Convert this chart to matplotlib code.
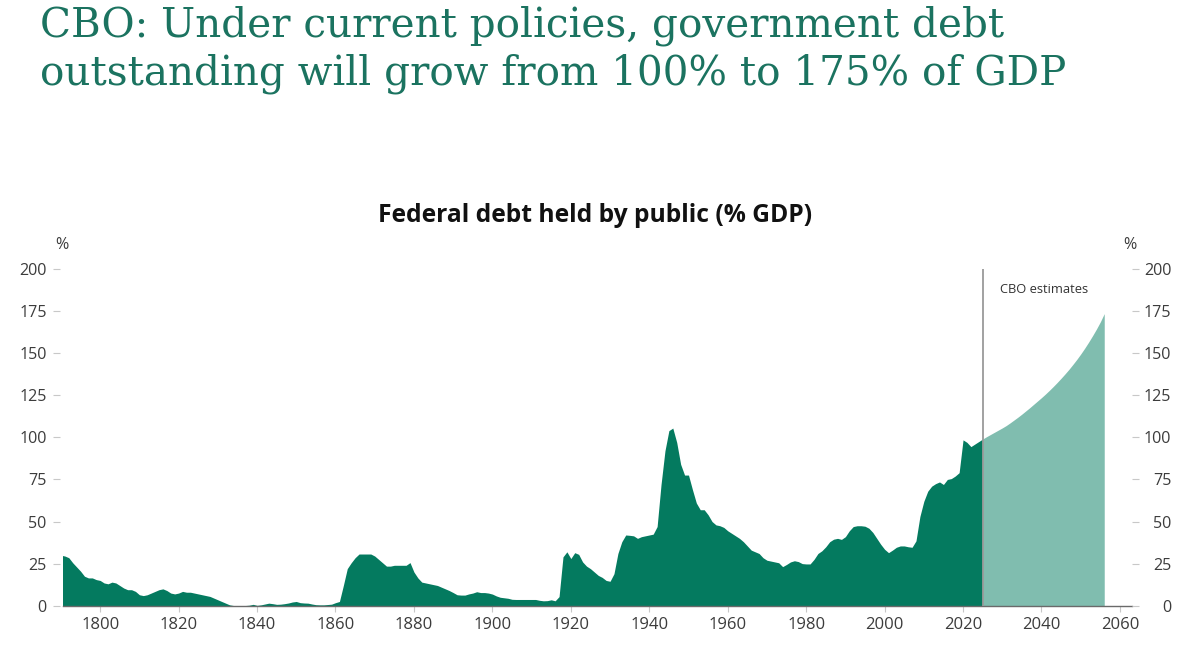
import matplotlib
matplotlib.use("Agg")
import matplotlib.pyplot as plt
import numpy as np

# ---------------- data ----------------
hist_years = list(range(1790, 2026))
hist_values = [
    30, 29.5, 28.5, 25.5, 23, 20.5, 17.5, 16.5, 16.5, 15.5,          # 1790-1799
    15, 13.5, 13, 14, 13.5, 12, 10.5, 9.5, 9.5, 8.5,                 # 1800-1809
    6.5, 6, 6.5, 7.5, 8.5, 9.5, 10, 9, 7.5, 7,                       # 1810-1819
    7.5, 8.5, 8, 8, 7.5, 7, 6.5, 6, 5.5, 4.5,                        # 1820-1829
    3.5, 2.5, 1.5, 0.5, 0.1, 0, 0, 0.1, 0.3, 0.8,                    # 1830-1839
    0.2, 0.5, 1, 1.5, 1.2, 0.8, 0.9, 1.2, 1.6, 2.2,                  # 1840-1849
    2.5, 1.8, 1.6, 1.5, 1, 0.6, 0.5, 0.5, 0.7, 0.9,                  # 1850-1859
    1.8, 2.5, 12, 22, 25.5, 28.5, 30.7, 30.7, 30.7, 30.7,            # 1860-1869
    29.5, 27.5, 25.5, 23.5, 23.5, 24, 24, 24, 24, 25.6,              # 1870-1879
    20, 16.5, 14, 13.5, 13, 12.5, 12, 11, 10, 9,                     # 1880-1889
    7.8, 6.5, 6.3, 6.3, 7, 7.5, 8.3, 7.8, 7.8, 7.5,                  # 1890-1899
    6.9, 5.8, 5, 4.7, 4.4, 3.8, 3.7, 3.7, 3.7, 3.7,                  # 1900-1909
    3.7, 3.7, 3.2, 2.9, 3, 3.5, 2.9, 5.4, 29, 32,                    # 1910-1919
    28, 31.5, 30.5, 26, 23.5, 22, 20, 18, 16.8, 15,                  # 1920-1929
    14.5, 19, 31, 38, 42, 41.8, 41.5, 40, 41, 41.5,                  # 1930-1939
    42, 42.5, 47, 72, 92, 104, 105.5, 97, 84, 77.6,                  # 1940-1949
    77.6, 69, 61, 57, 57, 54, 50, 48, 47.5, 46.5,                    # 1950-1959
    44.5, 43, 41.5, 40, 38, 35.5, 33, 32, 31, 28.5,                  # 1960-1969
    27, 26.5, 26, 25.5, 23.2, 24.5, 26, 26.7, 26.2, 25,              # 1970-1979
    24.8, 24.8, 27.5, 31, 32.6, 35, 38, 39.5, 40, 39.4,              # 1980-1989
    41, 44.5, 47, 47.5, 47.5, 47.2, 46, 43.5, 40, 36.5,              # 1990-1999
    33.5, 31.5, 33, 34.7, 35.5, 35.5, 35, 34.7, 38.5, 53,            # 2000-2009
    62, 68, 71, 72.5, 73.5, 72, 75, 75.5, 77, 79,                    # 2010-2019
    98.5, 97, 94.5, 96, 97.5, 99,                                    # 2020-2025
]

proj_years = list(range(2025, 2057))
proj_values = [
    99, 100.4, 101.7, 103.0, 104.3, 105.6, 107.0, 108.6, 110.3, 112.0,
    113.8, 115.7, 117.6, 119.6, 121.6, 123.6, 125.7, 127.9, 130.2, 132.6,
    135.1, 137.7, 140.4, 143.3, 146.3, 149.5, 152.9, 156.5, 160.3, 164.3,
    168.6, 173.5,
]

x_ticks = [1800, 1820, 1840, 1860, 1880, 1900, 1920, 1940, 1960, 1980, 2000, 2020, 2040, 2060]
y_ticks = [0, 25, 50, 75, 100, 125, 150, 175, 200]
estimate_start = 2025

title_lines = ["CBO: Under current policies, government debt",
               "outstanding will grow from 100% to 175% of GDP"]
subtitle = "Federal debt held by public (% GDP)"
annotation = "CBO estimates"

# ---------------- style ----------------
W, H = 1199, 654
DARK = "#047a5f"
LIGHT = "#80bdaf"
TITLE_C = "#1b7360"
LABEL_C = "#3c3c3c"
TICK_C = "#c8c8c8"

plt.rcParams["font.family"] = ["Open Sans", "DejaVu Sans"]

fig = plt.figure(figsize=(W / 100, H / 100), dpi=100)
fig.patch.set_facecolor("white")

left_px, right_px = 63.3, 1131.7
bottom_px, top_px = 605.7, 269.0
ax = fig.add_axes([left_px / W, 1 - bottom_px / H,
                   (right_px - left_px) / W, (bottom_px - top_px) / H])
ax.set_xlim(1790.6, 2063)
ax.set_ylim(0, 200)

ax.fill_between(hist_years, hist_values, 0, color=DARK, lw=0, zorder=2)
ax.fill_between(proj_years, proj_values, 0, color=LIGHT, lw=0, zorder=2)
ax.axvline(estimate_start, ymin=0, ymax=1, color="#9a9a9a", lw=1.3, zorder=3)
ax.text(2029.5, 188, annotation, fontsize=9.3, color="#333333",
        ha="left", va="center", zorder=4)

for s in ["top", "right", "left"]:
    ax.spines[s].set_visible(False)
ax.spines["bottom"].set_color("#6a6a6a")
ax.spines["bottom"].set_linewidth(1.0)
ax.spines["left"].set_position(("outward", 2.5))

ax.set_xticks(x_ticks)
ax.set_xticklabels([str(t) for t in x_ticks])
ax.tick_params(axis="x", direction="out", length=4, width=0.8, color=TICK_C,
               labelsize=12, labelcolor=LABEL_C, pad=4)
ax.set_yticks(y_ticks)
ax.set_yticklabels([str(t) for t in y_ticks])
ax.tick_params(axis="y", direction="out", length=5, width=0.8, color=TICK_C,
               labelsize=11.6, labelcolor=LABEL_C, pad=4.5)

ax2 = ax.twinx()
ax2.set_ylim(0, 200)
for s in ["top", "right", "left", "bottom"]:
    ax2.spines[s].set_visible(False)
ax2.set_yticks(y_ticks)
ax2.set_yticklabels([str(t) for t in y_ticks])
ax2.tick_params(axis="y", direction="out", length=5, width=0.8, color=TICK_C,
                labelsize=11.6, labelcolor=LABEL_C, pad=23.5)
for lab in ax2.get_yticklabels():
    lab.set_horizontalalignment("right")

fig.text(62 / W, 1 - 245 / H, "%", fontsize=11.6, color=LABEL_C, ha="center", va="center")
fig.text(1130 / W, 1 - 245 / H, "%", fontsize=11.6, color=LABEL_C, ha="center", va="center")

# subtitle
sub = fig.text(595.5 / W, 1 - 221.7 / H, subtitle, fontsize=15.5, fontweight="bold",
               color="#111111", ha="center", va="baseline")

# title
serif = ["DejaVu Serif"]
t1 = fig.text(40 / W, 1 - 37 / H, title_lines[0], fontsize=26, color=TITLE_C,
              family=serif, ha="left", va="baseline")
t2 = fig.text(40 / W, 1 - 85 / H, title_lines[1], fontsize=26, color=TITLE_C,
              family=serif, ha="left", va="baseline")

fig.canvas.draw()
r = fig.canvas.get_renderer()
w1 = t1.get_window_extent(r).width
w2 = t2.get_window_extent(r).width
scale = ((948 / w1) + (1045 / w2)) / 2
t1.set_fontsize(26 * scale)
t2.set_fontsize(26 * scale)
ws = sub.get_window_extent(r).width
sub.set_fontsize(15.5 * 435 / ws)

fig.savefig("out.png", dpi=100, facecolor="white")
